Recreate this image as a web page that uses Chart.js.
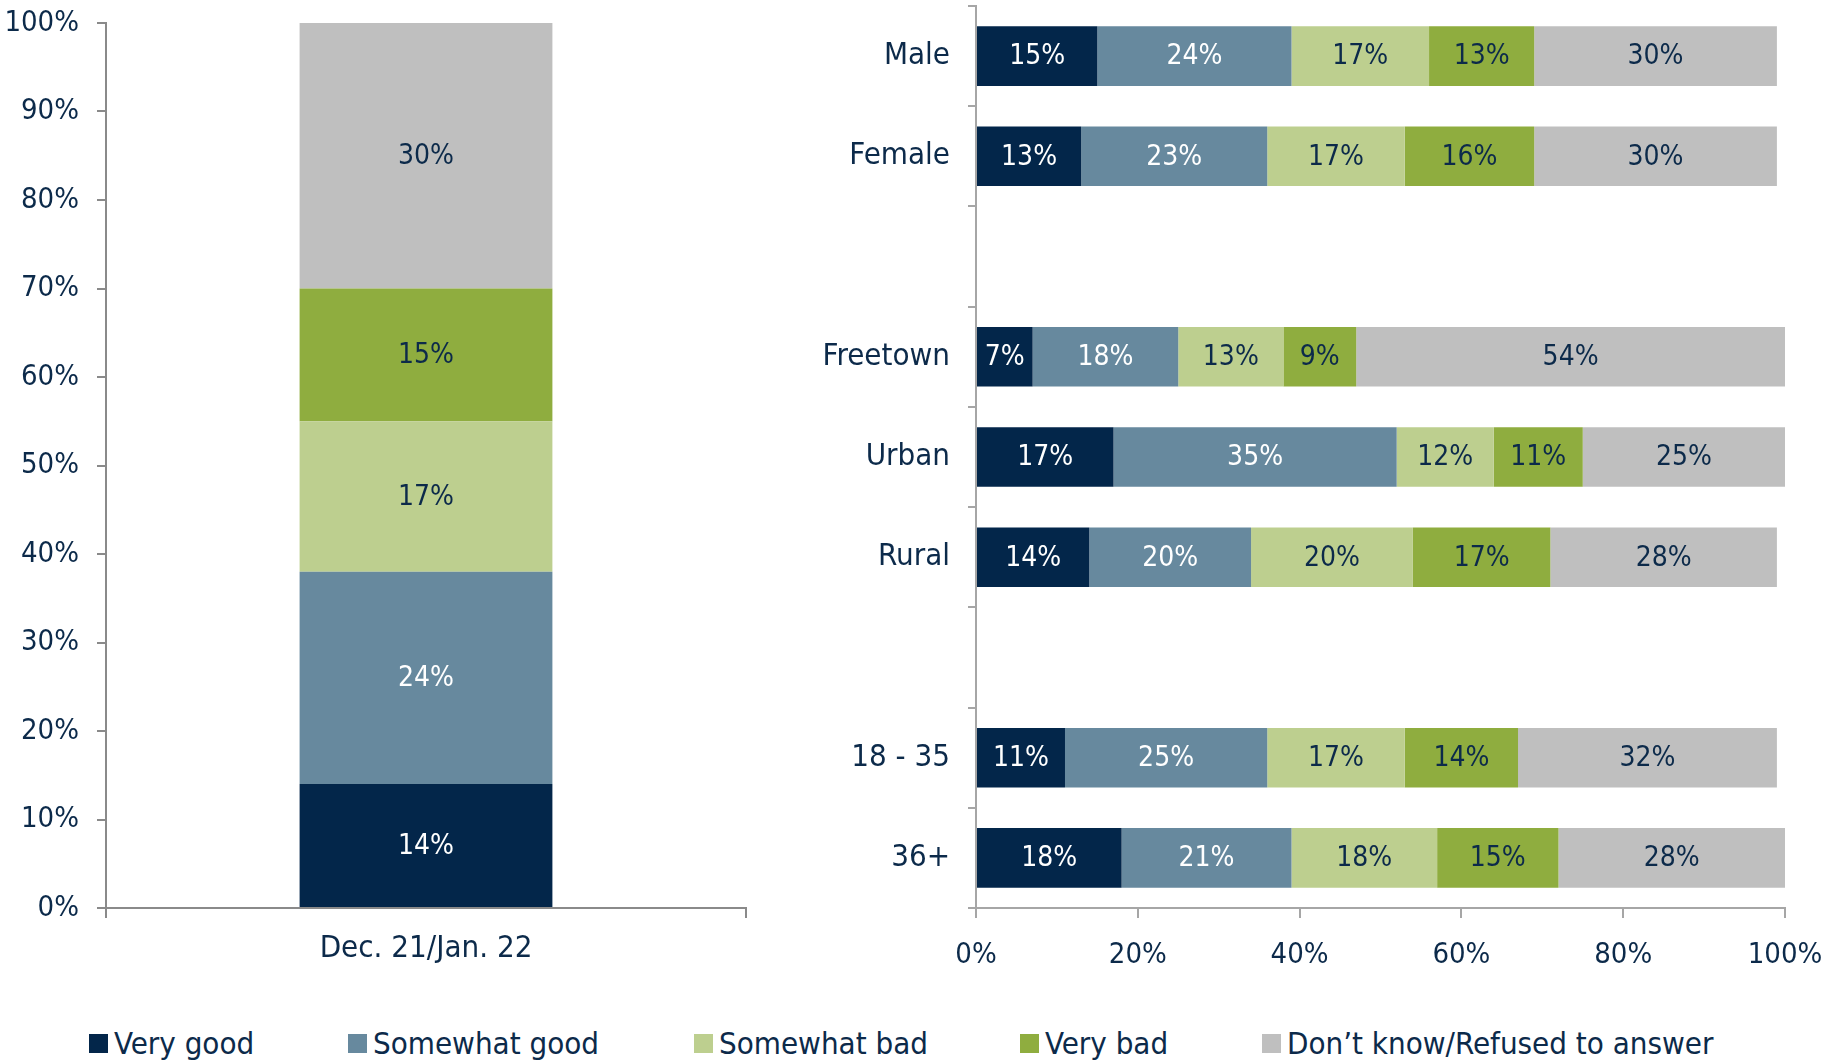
<!DOCTYPE html>
<html>
<head>
<meta charset="utf-8">
<script src="https://cdn.jsdelivr.net/npm/chart.js@4/dist/chart.umd.min.js"></script>
<style>
  body { margin: 0; background: #fff; width: 1827px; height: 1060px; overflow: hidden; position: relative; }
  canvas { position: absolute; top: 0; }
  #overall { left: 0; }
  #groups { left: 760px; }
  .key { position: absolute; top: 1023px; height: 40px; display: flex; align-items: center; white-space: nowrap;
         font-family: 'DejaVu Sans Condensed', sans-serif; font-size: 31px; color: #0c2a4a; }
  .key span { display: inline-block; width: 19px; height: 19px; margin-right: 6px; }
</style>
</head>
<body>
<canvas id="overall" width="760" height="1000"></canvas>
<canvas id="groups" width="1067" height="1000"></canvas>
<div id="legend"></div>
<script>
// answer options, bottom of the stack first
var seriesNames = ["Very good", "Somewhat good", "Somewhat bad", "Very bad", "Don\u2019t know/Refused to answer"];
var seriesColors = ["#03264a", "#67899e", "#bdcf8f", "#8fad3f", "#bfbfbf"];
var labelColors = ["#ffffff", "#ffffff", "#0c2a4a", "#0c2a4a", "#0c2a4a"];

// overall result
var overallLabels = ["Dec. 21/Jan. 22"];
var overallValues = [[14], [24], [17], [15], [30]];

// breakdown by group ("" rows are spacers)
var groupLabels = ["Male", "Female", "", "Freetown", "Urban", "Rural", "", "18 - 35", "36+"];
var veryGood     = [15, 13, null, 7, 17, 14, null, 11, 18];
var somewhatGood = [24, 23, null, 18, 35, 20, null, 25, 21];
var somewhatBad  = [17, 17, null, 13, 12, 20, null, 17, 18];
var veryBad      = [13, 16, null, 9, 11, 17, null, 14, 15];
var dontKnow     = [30, 30, null, 54, 25, 28, null, 32, 28];

var legendSlots = [89, 348, 694, 1020, 1262];

var navy = "#0c2a4a";
Chart.defaults.font.family = "'DejaVu Sans Condensed', sans-serif";
Chart.defaults.color = navy;

// writes the value in the middle of each segment
var barLabels = {
    id: "barLabels",
    afterDatasetsDraw: function(chart) {
        var ctx = chart.ctx;
        ctx.save();
        ctx.font = "28px " + Chart.defaults.font.family;
        ctx.textAlign = "center";
        ctx.textBaseline = "middle";
        chart.data.datasets.forEach(function(ds, i) {
            chart.getDatasetMeta(i).data.forEach(function(bar, j) {
                var v = ds.data[j];
                if (v == null) return;
                var p = bar.getCenterPoint();
                var x = p.x;
                if (chart.options.indexAxis === "y") {
                    x = (bar.base + Math.min(bar.x, chart.chartArea.right)) / 2;
                }
                ctx.fillStyle = labelColors[i];
                ctx.fillText(v + "%", x, p.y + 1);
            });
        });
        ctx.restore();
    }
};

function pct(v) { return v + "%"; }

// fixed axis sizes, no extra room for overhanging labels
function sideAxis(w) {
    return function(s) { s.width = w; s.paddingTop = 0; s.paddingBottom = 0; };
}
function baseAxis(h) {
    return function(s) { s.height = h; s.paddingLeft = 0; s.paddingRight = 0; };
}

var overallSets = seriesNames.map(function(name, i) {
    return {
        label: name,
        data: overallValues[i],
        backgroundColor: seriesColors[i],
        barPercentage: 0.395,
        categoryPercentage: 1
    };
});

new Chart(document.getElementById("overall"), {
    type: "bar",
    data: { labels: overallLabels, datasets: overallSets },
    plugins: [barLabels],
    options: {
        responsive: false,
        animation: false,
        layout: { padding: { top: 23, right: 14, left: 0, bottom: 0 } },
        plugins: { legend: { display: false }, tooltip: { enabled: false } },
        scales: {
            x: {
                stacked: true,
                grid: { drawOnChartArea: false, offset: true, tickLength: 10, color: "#8a8a8a", lineWidth: 2 },
                border: { color: "#8a8a8a", width: 2 },
                ticks: { font: { size: 31 }, padding: 12 },
                afterFit: baseAxis(92)
            },
            y: {
                stacked: true,
                min: 0,
                max: 100,
                grid: { drawOnChartArea: false, tickLength: 9, color: "#8a8a8a", lineWidth: 2 },
                border: { color: "#8a8a8a", width: 2 },
                ticks: { stepSize: 10, callback: pct, font: { size: 29 }, padding: 18 },
                afterFit: sideAxis(106)
            }
        }
    }
});

var groupValues = [veryGood, somewhatGood, somewhatBad, veryBad, dontKnow];
var groupSets = seriesNames.map(function(name, i) {
    return {
        label: name,
        data: groupValues[i],
        backgroundColor: seriesColors[i],
        barPercentage: 0.594,
        categoryPercentage: 1,
        clip: 0
    };
});

new Chart(document.getElementById("groups"), {
    type: "bar",
    data: { labels: groupLabels, datasets: groupSets },
    plugins: [barLabels],
    options: {
        indexAxis: "y",
        responsive: false,
        animation: false,
        layout: { padding: { top: 6, right: 42, left: 0, bottom: 0 } },
        plugins: { legend: { display: false }, tooltip: { enabled: false } },
        scales: {
            x: {
                stacked: true,
                min: 0,
                max: 100,
                grid: { drawOnChartArea: false, tickLength: 10, color: "#a6a6a6", lineWidth: 2 },
                border: { color: "#a6a6a6", width: 2 },
                ticks: { stepSize: 20, callback: pct, font: { size: 29 }, padding: 20 },
                afterFit: baseAxis(92)
            },
            y: {
                stacked: true,
                grid: { drawOnChartArea: false, offset: true, tickLength: 8, color: "#a6a6a6", lineWidth: 2 },
                border: { color: "#a6a6a6", width: 2 },
                ticks: { font: { size: 31 }, padding: 18 },
                afterFit: sideAxis(216)
            }
        }
    }
});

// shared legend under both charts
var legend = document.getElementById("legend");
seriesNames.forEach(function(name, i) {
    var item = document.createElement("div");
    item.className = "key";
    item.style.left = legendSlots[i] + "px";
    var sw = document.createElement("span");
    sw.style.background = seriesColors[i];
    item.appendChild(sw);
    item.appendChild(document.createTextNode(name));
    legend.appendChild(item);
});
</script>
</body>
</html>
